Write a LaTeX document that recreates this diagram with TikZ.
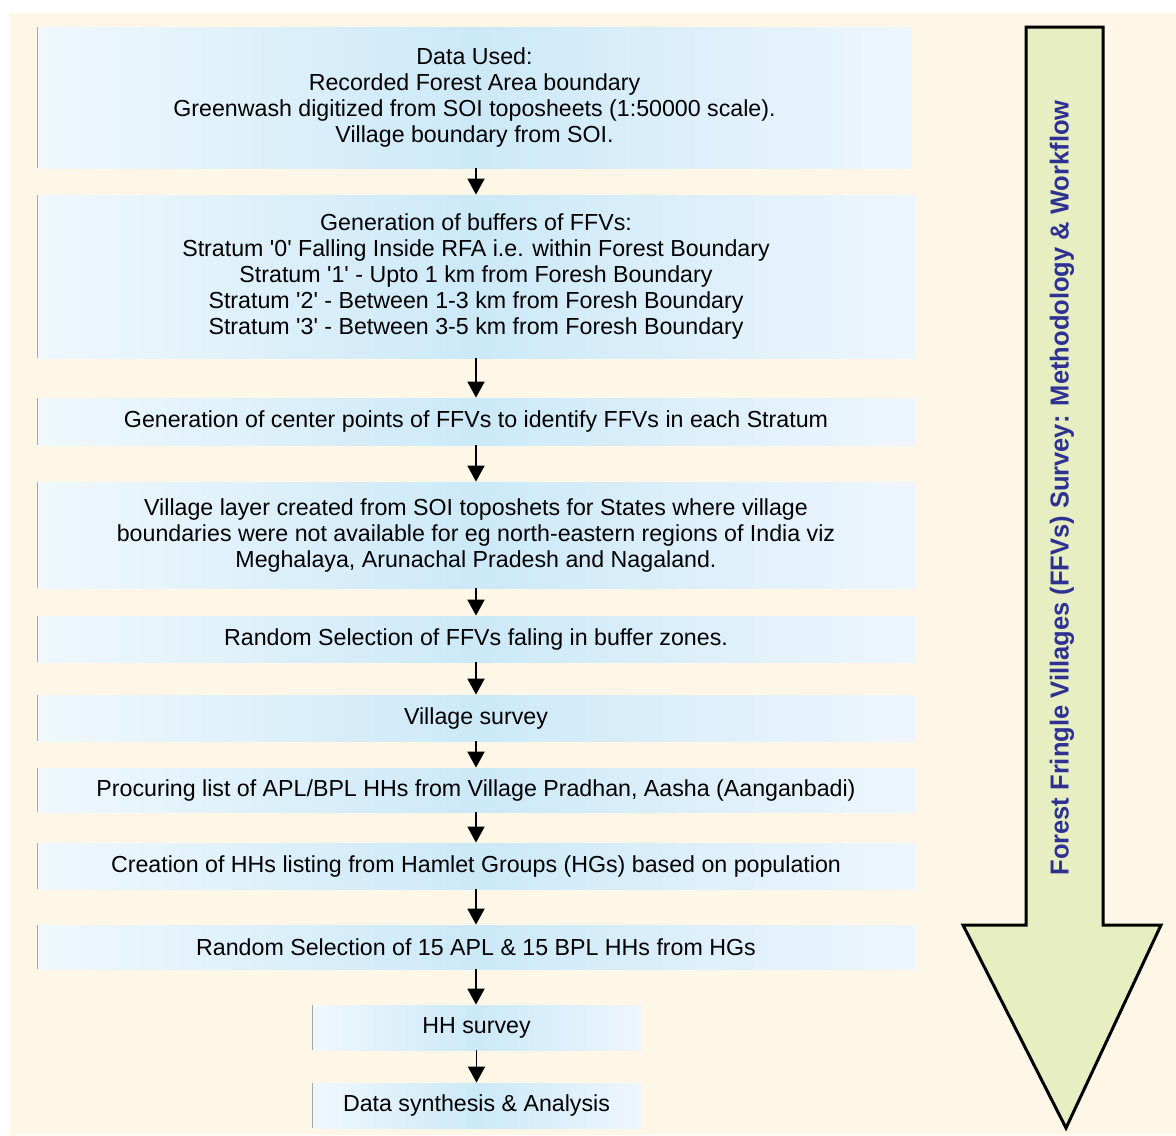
\documentclass[tikz,border=0pt]{standalone}
\usepackage{fontspec}
\setmainfont{Liberation Sans}
\usetikzlibrary{arrows.meta}
\definecolor{cream}{HTML}{FEF6E6}
\definecolor{boxL}{HTML}{F0F8FD}
\definecolor{boxM}{HTML}{CCE9F8}
\definecolor{boxR}{HTML}{EEF6FD}
\definecolor{bigarrow}{HTML}{E6EEC2}
\definecolor{titleblue}{HTML}{2E3192}
\newcommand{\sq}{\textquotesingle}
\tikzset{
  flowbox/.style={rectangle, inner sep=0pt, align=center, text=black,
    font=\fontsize{11.6}{13}\selectfont,
    left color=boxL, right color=boxR, middle color=boxM,
    path picture={\draw[gray!70, line width=1.2pt]
      (path picture bounding box.north west) -- (path picture bounding box.south west);}},
  flowarrow/.style={line width=0.9pt, draw=black, -{Triangle[width=8.5pt,length=8pt]}},
}
\begin{document}
\begin{tikzpicture}[x=0.5pt,y=-0.5pt]
\useasboundingbox (0,0) rectangle (1176,1135);
\fill[white] (0,0) rectangle (1176,1135);
\fill[cream] (10,13) rectangle (1176,1135);

\node[flowbox, minimum width=437.5pt, minimum height=70.5pt] (b1) at (474.5,97.5)
  {Data Used:\\Recorded Forest Area boundary\\Greenwash digitized from SOI toposheets (1:50000 scale).\\Village boundary from SOI.};
\node[flowbox, minimum width=439pt, minimum height=81.5pt] (b2) at (476,276.5)
  {Generation of buffers of FFVs:\\Stratum \sq0\sq{} Falling Inside RFA i.e. within Forest Boundary\\Stratum \sq1\sq{} - Upto 1 km from Foresh Boundary\\Stratum \sq2\sq{} - Between 1-3 km from Foresh Boundary\\Stratum \sq3\sq{} - Between 3-5 km from Foresh Boundary};
\node[flowbox, minimum width=439pt, minimum height=23.5pt] (b3) at (476,421.5)
  {Generation of center points of FFVs to identify FFVs in each Stratum};
\node[flowbox, minimum width=439pt, minimum height=53pt] (b4) at (476,535)
  {Village layer created from SOI toposhets for States where village\\boundaries were not available for eg north-eastern regions of India viz\\Meghalaya, Arunachal Pradesh and Nagaland.};
\node[flowbox, minimum width=439pt, minimum height=23pt] (b5) at (476,639)
  {Random Selection of FFVs faling in buffer zones.};
\node[flowbox, minimum width=439pt, minimum height=23pt] (b6) at (476,718)
  {Village survey};
\node[flowbox, minimum width=439pt, minimum height=22pt] (b7) at (476,790)
  {Procuring list of APL/BPL HHs from Village Pradhan, Aasha (Aanganbadi)};
\node[flowbox, minimum width=439pt, minimum height=23pt] (b8) at (476,866)
  {Creation of HHs listing from Hamlet Groups (HGs) based on population};
\node[flowbox, minimum width=439pt, minimum height=22pt] (b9) at (476,947)
  {Random Selection of 15 APL \& 15 BPL HHs from HGs};
\node[flowbox, minimum width=164.5pt, minimum height=22.5pt] (b10) at (476.5,1027.5)
  {HH survey};
\node[flowbox, minimum width=164.5pt, minimum height=22.5pt] (b11) at (476.5,1105.5)
  {Data synthesis \& Analysis};

\draw[flowarrow] (b2.north |- b1.south) -- (b2.north);
\draw[flowarrow] (b2.south) -- (b3.north);
\draw[flowarrow] (b3.south) -- (b4.north);
\draw[flowarrow] (b4.south) -- (b5.north);
\draw[flowarrow] (b5.south) -- (b6.north);
\draw[flowarrow] (b6.south) -- (b7.north);
\draw[flowarrow] (b7.south) -- (b8.north);
\draw[flowarrow] (b8.south) -- (b9.north);
\draw[flowarrow] (b9.south) -- (b9.south |- b10.north);
\draw[flowarrow] (b10.south) -- (b11.north);

\draw[fill=bigarrow, draw=black, line width=1.5pt, line join=miter]
  (1026,27) -- (1103,27) -- (1103,925) -- (1161,925) -- (1066,1128)
  -- (963,925) -- (1026,925) -- cycle;
\node[rotate=90, text=titleblue, inner sep=0pt] (title) at (1062,488)
  {\resizebox{387.5pt}{\height}{\fontsize{13}{15}\selectfont\bfseries Forest Fringle Villages (FFVs) Survey: Methodology \& Workflow}};
\end{tikzpicture}
\end{document}
